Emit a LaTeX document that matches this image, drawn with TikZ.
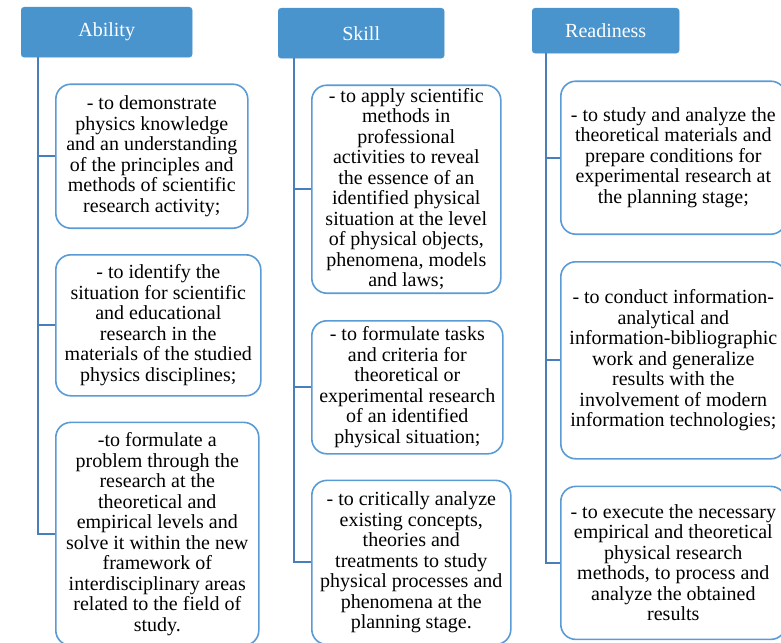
\documentclass[tikz,border=0pt]{standalone}
\usepackage{fontspec}
\setmainfont{Liberation Serif}
\usetikzlibrary{positioning}
\definecolor{hdblue}{RGB}{74,148,206}
\definecolor{bxblue}{RGB}{91,155,213}
\definecolor{lnblue}{RGB}{74,126,187}
\tikzset{
  hd/.style={fill=hdblue, draw=hdblue, rounded corners=3pt, text=white,
             font=\fontsize{20}{21}\selectfont, inner sep=0pt, anchor=north west},
  bx/.style={draw=bxblue, line width=1.6pt, rounded corners=15pt, align=center,
             fill=white, font=\fontsize{20}{20.5}\selectfont, inner sep=2pt},
  conn/.style={draw=lnblue, line width=2pt},
}

\begin{document}
\begin{tikzpicture}[x=1pt,y=1pt]
  \useasboundingbox (0,0) rectangle (781,-642);
  % headings
  \node[hd, minimum width=171pt, minimum height=50pt] (ah) at (21,-7) {Ability};
  \node[hd, minimum width=166pt, minimum height=50pt] (sh) at (278,-8) {Skill};
  \node[hd, minimum width=147pt, minimum height=45pt] (rh) at (532,-8) {Readiness};
  % ability column
  \node[bx, minimum width=192pt, minimum height=144pt,
        below right=26pt and 34pt of ah.south west] (a1)
    {- to demonstrate\\ physics knowledge\\ and an understanding\\
     of the principles and\\ methods of scientific\\ research activity;};
  \node[bx, minimum width=205pt, minimum height=141pt,
        below=25pt of a1.south west, anchor=north west] (a2)
    {- to identify the\\ situation for scientific\\ and educational\\
     research in the\\ materials of the studied\\ physics disciplines;};
  \node[bx, minimum width=203pt, minimum height=223pt,
        below=25pt of a2.south west, anchor=north west] (a3)
    {-to formulate a\\ problem through the\\ research at the\\ theoretical and\\
     empirical levels and\\ solve it within the new\\ framework of\\
     interdisciplinary areas\\ related to the field of\\ study.};
  % skill column
  \node[bx, minimum width=189pt, minimum height=208pt,
        below right=26pt and 33pt of sh.south west] (s1)
    {- to apply scientific\\ methods in\\ professional\\ activities to reveal\\
     the essence of an\\ identified physical\\ situation at the level\\
     of physical objects,\\ phenomena, models\\ and laws;};
  \node[bx, minimum width=191pt, minimum height=133pt,
        below=26pt of s1.south west, anchor=north west] (s2)
    {- to formulate tasks\\ and criteria for\\ theoretical or\\
     experimental research\\ of an identified\\ physical situation;};
  \node[bx, minimum width=199pt, minimum height=164pt,
        below=25pt of s2.south west, anchor=north west] (s3)
    {- to critically analyze\\ existing concepts,\\ theories and\\
     treatments to study\\ physical processes and\\ phenomena at the\\ planning stage.};
  % readiness column
  \node[bx, minimum width=225pt, minimum height=153pt,
        below right=27pt and 28pt of rh.south west] (r1)
    {- to study and analyze the\\ theoretical materials and\\ prepare conditions for\\
     experimental research at\\ the planning stage;};
  \node[bx, minimum width=225pt, minimum height=197pt,
        below=26pt of r1.south west, anchor=north west] (r2)
    {- to conduct information-\\ analytical and\\ information-bibliographic\\
     work and generalize\\ results with the\\ involvement of modern\\
     information technologies;};
  \node[bx, minimum width=225pt, minimum height=153pt,
        below=26pt of r2.south west, anchor=north west] (r3)
    {- to execute the necessary\\ empirical and theoretical\\ physical research\\
     methods, to process and\\ analyze the obtained\\ results};
  % trunks
  \coordinate (at) at ([xshift=17pt]ah.south west);
  \coordinate (st) at ([xshift=16pt]sh.south west);
  \coordinate (rt) at ([xshift=14pt]rh.south west);
  \draw[conn] (at) |- (a1.west) (at) |- (a2.west) (at) |- (a3.west);
  \draw[conn] (st) |- (s1.west) (st) |- (s2.west) (st) |- (s3.west);
  \draw[conn] (rt) |- (r1.west) (rt) |- (r2.west) (rt) |- (r3.west);
\end{tikzpicture}
\end{document}
